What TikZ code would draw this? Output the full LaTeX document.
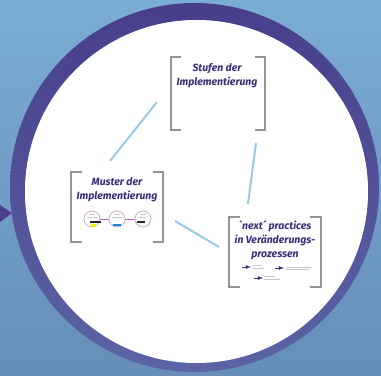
\documentclass[tikz,border=0pt]{standalone}
\usepackage{fontspec}
\newfontfamily\boxfont{Fira Sans}
\definecolor{bgtop}{RGB}{122,172,212}
\definecolor{bgbot}{RGB}{102,142,184}
\definecolor{ringtop}{RGB}{72,62,140}
\definecolor{ringbot}{RGB}{90,100,164}
\definecolor{titlecol}{RGB}{58,44,122}
\definecolor{linkcol}{RGB}{152,202,232}
\begin{document}
\begin{tikzpicture}[x=1bp, y=-1bp,
        bracket/.style={draw=black!42, line width=2.6bp},
        link/.style={linkcol, line width=2bp},
        title/.style={font=\boxfont\bfseries\itshape\fontsize{10.5}{14}\selectfont, text=titlecol, align=center, inner sep=0},
        mini/.style={draw=black!22, line width=0.4bp}]
    \useasboundingbox (0,0) rectangle (381,376);
    % Background and frame
    \shade[top color=bgtop, bottom color=bgbot] (0,0) rectangle (381,376);
    \shade[top color=ringtop, bottom color=ringbot, even odd rule] (194.5,187.5) circle (184.5) (196.5,191.5) circle (171.5);
    \fill[white] (196.5,191.5) circle (171.5);
    \fill[ringtop] (0,205) -- (12,213) -- (0,222) -- cycle;
    % Stufen der Implementierung
    \draw[bracket] (181,57) -- (171,57) -- (171,130) -- (181,130);
    \draw[bracket] (255,57) -- (265,57) -- (265,130) -- (255,130);
    \node[title] (stufen) at (217,76) {Stufen der\\Implementierung};
    % Muster der Implementierung
    \draw[bracket] (82,172) -- (71,172) -- (71,242) -- (82,242);
    \draw[bracket] (153,172) -- (163,172) -- (163,242) -- (153,242);
    \node[title] (muster) at (117,190) {Muster der\\Implementierung};
    \draw[violet!60, line width=0.8bp] (100,219) -- (109,219) (125,219) -- (135,219);
    \filldraw[draw=violet!35, fill=white, line width=0.8bp] (92,219) circle (8);
    \filldraw[draw=violet!35, fill=white, line width=0.8bp] (117,219) circle (8);
    \filldraw[draw=violet!35, fill=white, line width=0.8bp] (143,219) circle (8);
    \draw[mini] (89,214) -- (95,214) (87,217) -- (97,217) (114,214) -- (120,214) (112,217) -- (122,217) (140,214) -- (146,214) (139,217) -- (146,217);
    \fill[black!85] (90,220.5) rectangle (101,222.5);
    \fill[yellow!90!orange] (91,224) rectangle (96,227);
    \fill[cyan!70!blue] (113,224) rectangle (121,226);
    \fill[black!85] (137,220.5) rectangle (145,222.5);
    % next practices
    \draw[bracket] (240,217) -- (229,217) -- (229,287) -- (240,287);
    \draw[bracket] (310,217) -- (321,217) -- (321,287) -- (310,287);
    \node[title] (next) at (275,240.5) {`next´ practices\\in Veränderungs-\\prozessen};
    \draw[-latex, titlecol, line width=0.8bp] (242,267) -- (251,267);
    \draw[-latex, titlecol, line width=0.8bp] (275,268) -- (284,268);
    \draw[-latex, titlecol, line width=0.8bp] (254,278) -- (263,278);
    \draw[mini] (252,265.5) -- (262,265.5) (252,268.5) -- (264,268.5) (286,267) -- (312,267) (286,269.5) -- (309,269.5) (264,276.5) -- (275,276.5) (264,279.5) -- (280,279.5);
    % Connectors
    \coordinate (stufen-out) at (157,102);
    \coordinate (muster-in) at (110,161);
    \coordinate (stufen-low) at (256,143);
    \coordinate (next-top) at (248,204);
    \coordinate (muster-out) at (175,221);
    \coordinate (next-in) at (219,247);
    \draw[link] (stufen-out) -- (muster-in);
    \draw[link] (stufen-low) -- (next-top);
    \draw[link] (muster-out) -- (next-in);
\end{tikzpicture}
\end{document}
